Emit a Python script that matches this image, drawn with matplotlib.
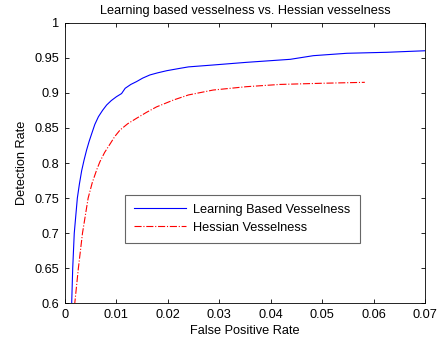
import matplotlib
matplotlib.use("Agg")
import matplotlib.pyplot as plt

plt.rcParams['font.family'] = ['Liberation Sans', 'DejaVu Sans']

learn_fpr = [0.0012, 0.0013, 0.0015, 0.0018, 0.0024, 0.0028, 0.00324, 0.0037, 0.0042, 0.0047,
             0.0052, 0.0058, 0.0065, 0.0073, 0.0081, 0.0090, 0.0100, 0.0110, 0.0117, 0.0128,
             0.0139, 0.0151, 0.0165, 0.0180, 0.0198, 0.0224, 0.0240, 0.0288,
             0.0353, 0.0438, 0.0483, 0.0548, 0.0625, 0.0700]
learn_tpr = [0.580, 0.600, 0.650, 0.700, 0.750, 0.770, 0.789, 0.804, 0.8185, 0.831,
             0.842, 0.855, 0.866, 0.875, 0.8827, 0.889, 0.8945, 0.899, 0.9065, 0.912,
             0.916, 0.921, 0.9255, 0.9285, 0.9316, 0.935, 0.937, 0.9397,
             0.9435, 0.9478, 0.953, 0.9564, 0.9578, 0.960]

hess_fpr = [0.0018, 0.0019, 0.0026, 0.0034, 0.0045, 0.0053, 0.0062, 0.0068, 0.0077, 0.00875,
            0.0097, 0.0107, 0.0122, 0.0139, 0.0158, 0.0178, 0.0211, 0.0240, 0.0288, 0.0353,
            0.0418, 0.0496, 0.0583]
hess_tpr = [0.580, 0.600, 0.650, 0.700, 0.750, 0.772, 0.791, 0.802, 0.815, 0.827,
            0.838, 0.847, 0.856, 0.8637, 0.872, 0.880, 0.8898, 0.897, 0.904, 0.9088,
            0.912, 0.9136, 0.915]

FS = 9.2
fig = plt.figure(figsize=(4.39, 3.48), dpi=100)
ax = fig.add_axes([65/439, 1-303.3/348, 360/439, 280.6/348])

ax.plot(learn_fpr, learn_tpr, color='blue', lw=0.8, label='Learning Based Vesselness')
ax.plot(hess_fpr, hess_tpr, color='red', lw=0.8, ls='-.', label='Hessian Vesselness')

ax.set_xlim(0, 0.07)
ax.set_ylim(0.6, 1.0)
ax.set_xticks([0, 0.01, 0.02, 0.03, 0.04, 0.05, 0.06, 0.07])
ax.set_xticklabels(['0', '0.01', '0.02', '0.03', '0.04', '0.05', '0.06', '0.07'])
ax.set_yticks([0.6, 0.65, 0.7, 0.75, 0.8, 0.85, 0.9, 0.95, 1.0])
ax.set_yticklabels(['0.6', '0.65', '0.7', '0.75', '0.8', '0.85', '0.9', '0.95', '1'])
ax.tick_params(direction='in', length=3, labelsize=FS, top=True, right=True, width=0.6, pad=4)
for s in ax.spines.values():
    s.set_linewidth(0.6)

ax.set_xlabel('False Positive Rate', fontsize=FS, labelpad=3)
ax.set_ylabel('Detection Rate', fontsize=FS, labelpad=5)
ax.set_title('Learning based vesselness vs. Hessian vesselness', fontsize=FS, pad=6)

leg = ax.legend(loc='upper left', bbox_to_anchor=((125-65)/360, (303.3-195)/280.6),
                borderaxespad=0, fontsize=FS, frameon=True, fancybox=False,
                edgecolor='#404040', handlelength=4.1, handletextpad=0.55,
                borderpad=0.7, labelspacing=0.45)
leg.get_frame().set_linewidth(0.8)

fig.savefig('out.png', dpi=100)
